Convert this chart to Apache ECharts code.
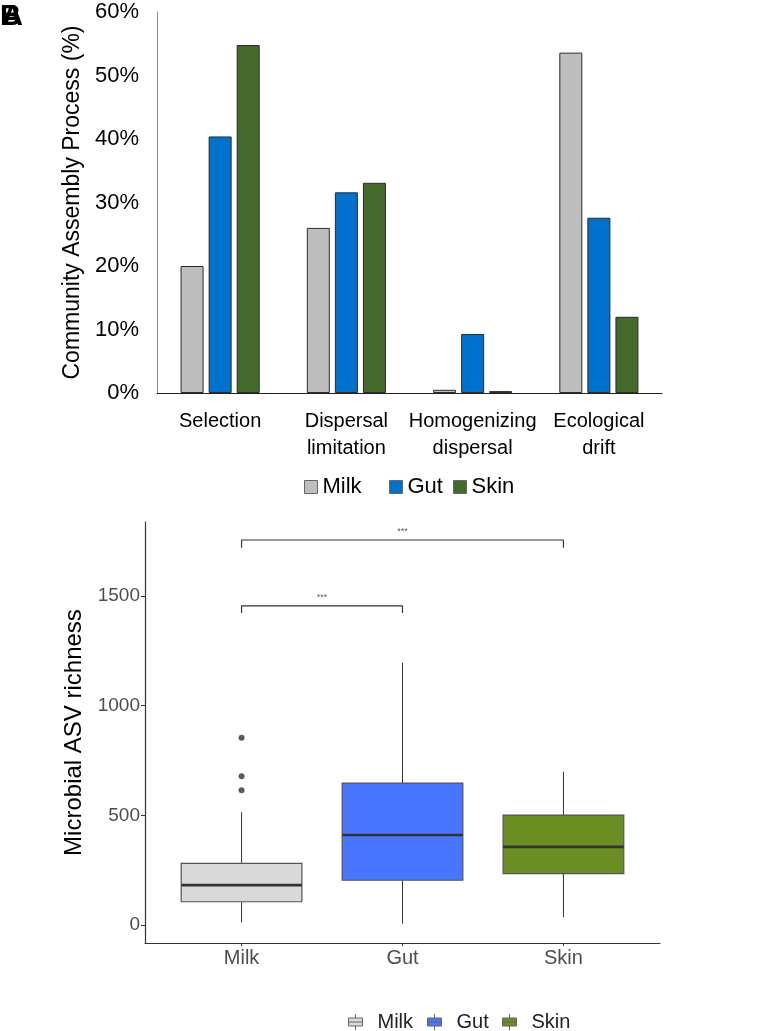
<!DOCTYPE html>
<html>
<head>
<meta charset="utf-8">
<script src="https://cdn.jsdelivr.net/npm/echarts@6/dist/echarts.min.js"></script>
<style>
html,body{margin:0;padding:0;background:#fff;}
#chart{width:761px;height:1031px;}
</style>
</head>
<body>
<div id="chart"></div>
<script>
// ---- Panel A data ----
const processCategories = ['Selection', 'Dispersal limitation', 'Homogenizing dispersal', 'Ecological drift'];
const milkPct = [20.0, 26.0, 0.5, 53.6];
const gutPct  = [40.4, 31.6, 9.3, 27.6];
const skinPct = [54.8, 33.1, 0.3, 12.0];
const pctTicks = [0, 10, 20, 30, 40, 50, 60];

// ---- Panel B data ----
const groups = ['Milk', 'Gut', 'Skin'];
// [min, Q1, median, Q3, max]
const boxStats = [
  [12, 106, 182, 281, 514],
  [6, 204, 410, 647, 1196],
  [35, 234, 356, 501, 699]
];
const milkOutliers = [854, 678, 614];
const richnessTicks = [0, 500, 1000, 1500];
// significance brackets: group index from, to, height, tip bottom, label
const brackets = [
  { from: 0, to: 2, y: 1755, tip: 1720, label: '***' },
  { from: 0, to: 1, y: 1455, tip: 1422, label: '***' }
];

const barColors = { Milk: '#BEBEBE', Gut: '#0072CE', Skin: '#43692B' };
const boxColors = { Milk: '#D9D9D9', Gut: '#4876FF', Skin: '#6B8E23' };
const FONT = 'Liberation Sans, Arial, sans-serif';

const chart = echarts.init(document.getElementById('chart'), null, { renderer: 'canvas' });

const boxIcon = 'path://M7,0L7,4M0,4L14,4L14,12L0,12ZM0,8L14,8M7,12L7,16';

function barSeries(name, values) {
  return {
    type: 'bar', name: name, xAxisIndex: 0, yAxisIndex: 0,
    data: values,
    barWidth: 23, barGap: '22%',
    itemStyle: { color: barColors[name], borderColor: '#2b2b2b', borderWidth: 1 }
  };
}

function renderBox(params, api) {
  const x = api.value(0);
  const vMin = api.value(1), q1 = api.value(2), med = api.value(3), q3 = api.value(4), vMax = api.value(5);
  const band = api.size([1, 0])[0];
  const half = band * 0.75 / 2;
  const pMin = api.coord([x, vMin]);
  const pQ1 = api.coord([x, q1]);
  const pMed = api.coord([x, med]);
  const pQ3 = api.coord([x, q3]);
  const pMax = api.coord([x, vMax]);
  const cx = pMed[0];
  const fill = boxColors[groups[params.dataIndex]];
  return {
    type: 'group',
    children: [
      { type: 'line', shape: { x1: cx, y1: pMax[1], x2: cx, y2: pQ3[1] }, style: { stroke: '#333', lineWidth: 1 } },
      { type: 'line', shape: { x1: cx, y1: pQ1[1], x2: cx, y2: pMin[1] }, style: { stroke: '#333', lineWidth: 1 } },
      { type: 'rect', shape: { x: cx - half, y: pQ3[1], width: half * 2, height: pQ1[1] - pQ3[1] }, style: { fill: fill, stroke: '#555', lineWidth: 1.2 } },
      { type: 'line', shape: { x1: cx - half, y1: pMed[1], x2: cx + half, y2: pMed[1] }, style: { stroke: '#333', lineWidth: 2.6 } }
    ]
  };
}

const series = [
  barSeries('Milk', milkPct),
  barSeries('Gut', gutPct),
  barSeries('Skin', skinPct),
  {
    type: 'custom', name: 'box', xAxisIndex: 1, yAxisIndex: 1,
    renderItem: renderBox,
    encode: { x: 0, y: [1, 2, 3, 4, 5] },
    data: boxStats.map((s, i) => [i + 1].concat(s)),
    z: 2
  },
  {
    type: 'scatter', name: 'outliers', xAxisIndex: 1, yAxisIndex: 1,
    symbol: 'circle', symbolSize: 6,
    itemStyle: { color: '#333' },
    data: milkOutliers.map(v => [1, v]),
    z: 4
  }
];

brackets.forEach(b => {
  series.push({
    type: 'line', xAxisIndex: 1, yAxisIndex: 1,
    data: [[b.from + 1, b.tip], [b.from + 1, b.y], [b.to + 1, b.y], [b.to + 1, b.tip]],
    showSymbol: false, symbol: 'none',
    lineStyle: { color: '#333', width: 1.2 },
    silent: true, z: 5
  });
  series.push({
    type: 'scatter', xAxisIndex: 1, yAxisIndex: 1,
    data: [[(b.from + b.to) / 2 + 1, b.y]],
    symbolSize: 0,
    label: { show: true, position: 'top', distance: 4, formatter: b.label, fontSize: 9, color: '#333', fontFamily: FONT },
    silent: true, z: 5
  });
});

// one legend per item so the positions can follow the reference
const topLegendLeft = [304, 389, 453];
const botLegendLeft = [348, 427, 502];
const legends = [];
groups.forEach((g, i) => {
  legends.push({
    left: topLegendLeft[i], top: 476, padding: 0,
    data: [{ name: g, icon: 'rect', itemStyle: { color: barColors[g], borderColor: '#666', borderWidth: 1 } }],
    itemWidth: 13, itemHeight: 13,
    textStyle: { fontSize: 22, color: '#000', fontFamily: FONT },
    selectedMode: false
  });
  legends.push({
    left: botLegendLeft[i], top: 1012, padding: 0,
    data: [{ name: g, icon: boxIcon, itemStyle: { color: boxColors[g], borderColor: '#666', borderWidth: 1 } }],
    itemWidth: 14, itemHeight: 16,
    textStyle: { fontSize: 20, color: '#222', fontFamily: FONT, padding: [0, 0, 0, 10] },
    selectedMode: false
  });
});

const option = {
  animation: false,
  backgroundColor: '#fff',
  textStyle: { fontFamily: FONT },
  title: [
    { text: 'B', left: 0, top: 2, padding: 0, textStyle: { fontSize: 29, fontWeight: 'bold', color: '#000', fontFamily: FONT } },
    { text: 'A', left: 2, top: 2, padding: 0, textStyle: { fontSize: 29, fontWeight: 'bold', color: '#000', fontFamily: FONT } }
  ],
  legend: legends,
  grid: [
    { left: 157, right: 99, top: 12, bottom: 638 },
    { left: 145, right: 101, top: 522, bottom: 88 }
  ],
  xAxis: [
    {
      gridIndex: 0, type: 'category', data: processCategories,
      axisLine: { lineStyle: { color: '#222', width: 1 } },
      axisTick: { show: false },
      axisLabel: {
        color: '#000', fontSize: 20, lineHeight: 27, margin: 15, interval: 0,
        formatter: v => v.replace(' ', '\n')
      }
    },
    {
      gridIndex: 1, type: 'value', min: 0.4, max: 3.6,
      splitLine: { show: false },
      axisLine: { onZero: false, lineStyle: { color: '#333', width: 1.2 } },
      axisTick: { show: true, length: 3, customValues: [1, 2, 3], lineStyle: { color: '#333' } },
      axisLabel: {
        customValues: [1, 2, 3], color: '#4d4d4d', fontSize: 20, margin: 5,
        formatter: v => groups[Math.round(v) - 1]
      }
    }
  ],
  yAxis: [
    {
      gridIndex: 0, type: 'value', min: 0, max: 60, interval: 10,
      name: 'Community Assembly Process (%)', nameLocation: 'middle', nameGap: 73,
      nameTextStyle: { fontSize: 23, color: '#000', fontFamily: FONT },
      splitLine: { show: false },
      axisLine: { show: true, lineStyle: { color: '#888', width: 1 } },
      axisTick: { show: false },
      axisLabel: { color: '#000', fontSize: 22, margin: 18, formatter: v => v + '%', customValues: pctTicks }
    },
    {
      gridIndex: 1, type: 'value', min: -82, max: 1837,
      name: 'Microbial ASV richness', nameLocation: 'middle', nameGap: 56,
      nameTextStyle: { fontSize: 24, color: '#000', fontFamily: FONT },
      splitLine: { show: false },
      axisLine: { show: true, onZero: false, lineStyle: { color: '#333', width: 1.2 } },
      axisTick: { show: true, length: 4, customValues: richnessTicks, lineStyle: { color: '#333' } },
      axisLabel: { customValues: richnessTicks, color: '#4d4d4d', fontSize: 19, margin: 5, formatter: v => String(v) }
    }
  ],
  series: series
};

chart.setOption(option);
</script>
</body>
</html>
